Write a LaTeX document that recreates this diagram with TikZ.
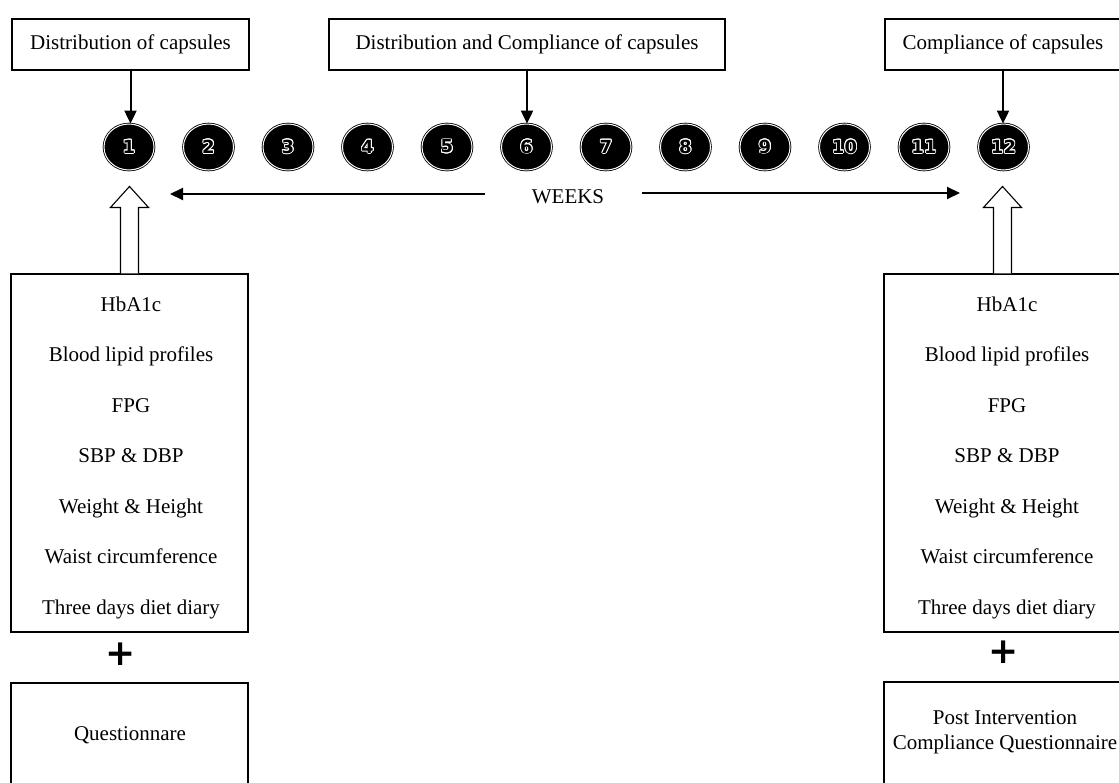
\documentclass[tikz,border=0pt]{standalone}
\usepackage{fontspec}
\setmainfont{Liberation Serif}
\newfontfamily\digitfont{DejaVu Sans}
\newfontfamily\plusfont{DejaVu Sans}
\usepackage{contour}
\contourlength{0.9pt}
\usetikzlibrary{arrows.meta,shapes.geometric}
\newcommand\bodysize{\fontsize{21}{25}\selectfont}
\newcommand\wk[1]{\contour{white}{\textcolor{black}{#1}}}

\begin{document}
\begin{tikzpicture}[x=1pt,y=-1pt,
  box/.style={draw, line width=1.1pt, inner sep=0pt, align=center, font=\bodysize},
  topbox/.style={box, minimum height=51pt},
  listbox/.style={draw, line width=1.1pt, minimum width=237pt, minimum height=358pt},
  item/.style={anchor=base, inner sep=0pt, font=\bodysize},
  week/.style={ellipse, draw=black, fill=black, line width=0.8pt, double=white,
    double distance=1pt, minimum width=50pt, minimum height=46pt, inner sep=0pt,
    font=\digitfont\bfseries\fontsize{18}{18}\selectfont},
  arr/.style={line width=2pt, -{Triangle[length=13pt,width=12pt]}},
  hollow/.style={draw, fill=white, line width=1.1pt, line join=miter},
  plus/.style={inner sep=0pt, font=\plusfont\bfseries\fontsize{36}{36}\selectfont}
]
\useasboundingbox (0,0) rectangle (1119,782);

% headings above the week line
\node[topbox, minimum width=237pt] (dist) at (130.5,44.5) {Distribution of capsules};
\node[topbox, minimum width=396pt] (distcomp) at (527,44.5) {Distribution and Compliance of capsules};
\node[topbox, minimum width=236pt] (comp) at (1003,44.5) {Compliance of capsules};

% the twelve weeks
\foreach \i in {1,...,12}
  \node[week] (c\i) at ({129+79.5*(\i-1)},147) {\wk{\i}};

% arrows from the headings to their weeks
\draw[arr] (dist.south) -- (dist.south |- c1.north);
\draw[arr] (distcomp.south) -- (distcomp.south |- c6.north);
\draw[arr] (comp.south) -- (comp.south |- c12.north);

% WEEKS with its span arrows
\node[inner sep=0pt, font=\bodysize] (weeks) at (568,197) {WEEKS};
\coordinate (wkLs) at (485,194);
\coordinate (wkLe) at (170,194);
\coordinate (wkRs) at (642,193);
\coordinate (wkRe) at (960,193);
\draw[arr] (wkLs) -- (wkLe);
\draw[arr] (wkRs) -- (wkRe);

% measurement lists
\node[listbox] (lbox) at (129.5,453) {};
\node[listbox] (rbox) at (1002.5,453) {};
\foreach \t [count=\k from 0] in {HbA1c, Blood lipid profiles, FPG, SBP \& DBP,
    Weight \& Height, Waist circumference, Three days diet diary} {
  \node[item] (l\k) at (131,{311+50.5*\k}) {\t};
  \node[item] (r\k) at (1007,{311+50.5*\k}) {\t};
}

% hollow arrows from the lists to weeks 1 and 12
\draw[hollow] ([xshift=-9pt]lbox.north) -- ++(0,-66) -- ++(-10,0) -- ++(19,-21)
  -- ++(19,21) -- ++(-10,0) -- ++(0,66);
\draw[hollow] ([xshift=-9pt]rbox.north) -- ++(0,-66) -- ++(-10,0) -- ++(19,-21)
  -- ++(19,21) -- ++(-10,0) -- ++(0,66);

% plus signs
\node[plus] (lplus) at (121,654) {+};
\node[plus] (rplus) at (1004,652) {+};

% questionnaires
\node[draw, line width=1.1pt, minimum width=237pt, minimum height=140pt, inner sep=0pt] (lq) at (129.5,753) {};
\node[draw, line width=1.1pt, minimum width=237pt, minimum height=140pt, inner sep=0pt] (rq) at (1002.5,752) {};
\node[item, anchor=center] (lqt) at (130,735) {Questionnare};
\node[item, anchor=center, align=center] (rqt) at (1005,732) {Post Intervention\\Compliance Questionnaire};
\end{tikzpicture}
\end{document}
